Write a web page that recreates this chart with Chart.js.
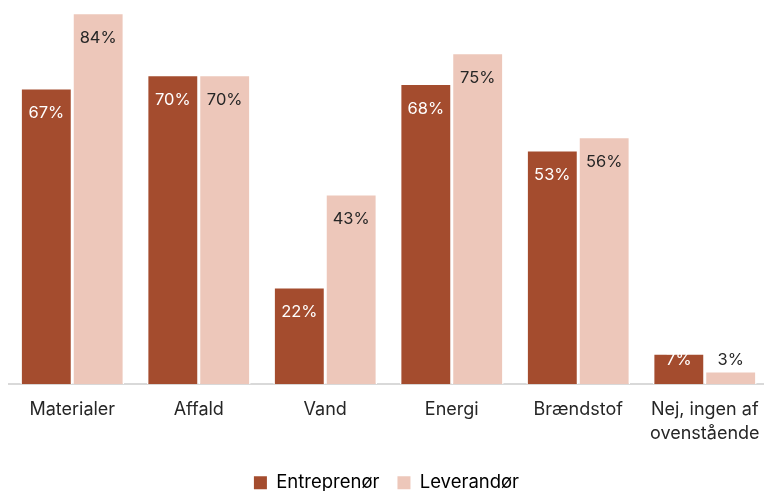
<!DOCTYPE html>
<html>
<head>
<meta charset="utf-8">
<script src="https://cdn.jsdelivr.net/npm/chart.js@4/dist/chart.umd.min.js"></script>
<style>
html,body{margin:0;padding:0;background:#fff;overflow:hidden;}
#wrap{width:764px;height:491px;overflow:hidden;}
canvas{display:block;}
</style>
</head>
<body>
<div id="wrap"><canvas id="c" width="764" height="491"></canvas></div>
<script>
const categories = ["Materialer", "Affald", "Vand", "Energi", "Brændstof", ["Nej, ingen af", "ovenstående"]];
const seriesNames = ["Entreprenør", "Leverandør"];
const entreprenor = [67, 70, 22, 68, 53, 7];
const leverandor = [84, 70, 43, 75, 56, 3];
const colors = ["#A44C2E", "#EDC7BA"];
const FONT = "Inter, 'DejaVu Sans', sans-serif";

const labelPlugin = {
  id: 'barLabels',
  afterDatasetsDraw(chart) {
    const ctx = chart.ctx;
    ctx.save();
    ctx.font = "16.5px " + FONT;
    ctx.textAlign = 'center';
    ctx.textBaseline = 'middle';
    chart.data.datasets.forEach((ds, di) => {
      const meta = chart.getDatasetMeta(di);
      meta.data.forEach((bar, i) => {
        const h = bar.base - bar.y;
        let y, col;
        if (h >= 40) { y = bar.y + 25; col = di === 0 ? '#FFFFFF' : '#262626'; }
        else if (di === 0) { y = bar.y + 7; col = '#FFFFFF'; }
        else { y = bar.y - 11; col = '#262626'; }
        ctx.fillStyle = col;
        ctx.fillText(ds.data[i] + '%', bar.x, y);
      });
    });
    ctx.restore();
  }
};

// Stretch the category axis slightly past the right edge (as in the reference) and lower the legend
const layoutPlugin = {
  id: 'layoutTweak',
  afterLayout(chart) {
    const x = chart.scales.x;
    x.left = 9; x.right = 768; x.width = x.right - x.left;
    x.bottom = chart.height; x.height = x.bottom - x.top;
    x.configure();
    const lg = chart.legend;
    if (lg) { lg.top += 11; lg.bottom += 11; }
  }
};

new Chart(document.getElementById('c'), {
  type: 'bar',
  data: {
    labels: categories,
    datasets: [
      { label: seriesNames[0], data: entreprenor, backgroundColor: colors[0], borderColor: '#FFFFFF', borderWidth: 1.5, borderSkipped: 'bottom', categoryPercentage: 0.82, barPercentage: 1 },
      { label: seriesNames[1], data: leverandor, backgroundColor: colors[1], borderColor: '#FFFFFF', borderWidth: 1.5, borderSkipped: 'bottom', categoryPercentage: 0.82, barPercentage: 1 }
    ]
  },
  options: {
    responsive: false,
    animation: false,
    devicePixelRatio: 1,
    layout: { padding: { left: 9, right: 0, top: 4, bottom: 0 } },
    scales: {
      x: {
        grid: { display: false, drawTicks: false },
        border: { display: true, color: '#D9D9D9', width: 2 },
        ticks: { font: { family: FONT, size: 18, lineHeight: 1.3 }, color: '#262626', padding: 14, maxRotation: 0, autoSkip: false },
        afterFit(scale) { scale.height -= 14.5; }
      },
      y: { display: false, min: 0, max: 86 }
    },
    plugins: {
      legend: {
        position: 'bottom',
        labels: {
          font: { family: FONT, size: 18.5 }, color: '#262626',
          boxWidth: 13, boxHeight: 13, padding: 18,
          generateLabels(chart) {
            return chart.data.datasets.map((ds, i) => ({ text: ds.label, fillStyle: ds.backgroundColor, strokeStyle: ds.backgroundColor, lineWidth: 0, datasetIndex: i, hidden: false }));
          }
        }
      },
      tooltip: { enabled: false }
    }
  },
  plugins: [labelPlugin, layoutPlugin]
});
</script>
</body>
</html>
